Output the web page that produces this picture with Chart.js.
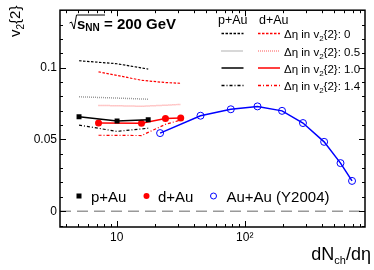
<!DOCTYPE html>
<html>
<head>
<meta charset="utf-8">
<script src="https://cdn.jsdelivr.net/npm/chart.js@4.4.1/dist/chart.umd.min.js"></script>
<style>
  html, body { margin: 0; padding: 0; background: #fff; }
  canvas { display: block; }
</style>
</head>
<body>
<canvas id="v2Chart" width="374" height="270"></canvas>
<script>
// values
const pAuX = [5.07, 10.05, 17.6];
const pAuV2 = [0.0658, 0.0628, 0.0637];
const pAuDeta0 = [0.1048, 0.1027, 0.0990];
const pAuDeta05 = [0.0797, 0.0788, 0.0780];
const pAuDeta14 = [0.0600, 0.0556, 0.0578];

const dAuX = [7.2, 15.6, 24.0, 31.6];
const dAuV2 = [0.0615, 0.0612, 0.0646, 0.0650];
const dAuDeta0 = [0.0971, 0.0912, 0.0896, 0.0891];
const dAuDeta05 = [0.0737, 0.0731, 0.0738, 0.0744];
const dAuDeta14 = [0.0529, 0.0527, 0.0605, 0.0635];

const auAuX = [21.8, 45.1, 77.8, 125.7, 195.6, 285, 417, 560, 689];
const auAuV2 = [0.0544, 0.0665, 0.0710, 0.0730, 0.0699, 0.0614, 0.0483, 0.0335, 0.0211];

const zeroX = [3.6, 870];
const zeroY = [0, 0];

const yLabels = { "0": "0", "0.05": "0.05", "0.1": "0.1" };
const xLabels = { "10": "10", "100": "10\u00b2" };

const FONT = '"Liberation Sans", Arial, Helvetica, sans-serif';

function pts(xs, ys) {
  return xs.map((x, i) => ({ x: x, y: ys[i] }));
}

function band(label, xs, ys, color, dash, width) {
  return {
    label: label,
    data: pts(xs, ys),
    borderColor: color,
    borderWidth: width || 1.5,
    borderDash: dash,
    pointRadius: 0,
    fill: false,
    tension: 0
  };
}

const DASH0 = [2.5, 1.5];
const DOT05 = [1, 1];
const DASHDOT14 = [3, 2, 1, 2];

// text with a lowered small part, e.g. v_2
function richText(ctx, x, y, parts) {
  let cx = x;
  parts.forEach(p => {
    ctx.font = p.font;
    ctx.fillText(p.t, cx, y + (p.dy || 0));
    cx += ctx.measureText(p.t).width;
  });
  return cx;
}
function richWidth(ctx, parts) {
  let w = 0;
  parts.forEach(p => { ctx.font = p.font; w += ctx.measureText(p.t).width; });
  return w;
}

const framePlugin = {
  id: "frame",
  afterDraw(chart) {
    const ctx = chart.ctx;
    const a = chart.chartArea;
    const xs = chart.scales.x, ys = chart.scales.y;
    ctx.save();
    ctx.strokeStyle = "#000";
    ctx.lineWidth = 1;
    ctx.setLineDash([]);
    // y ticks, both sides
    for (let i = -1; i <= 14; i++) {
      const py = Math.round(ys.getPixelForValue(i / 100)) + 0.5;
      const len = i % 5 === 0 ? 6 : 3;
      ctx.beginPath();
      ctx.moveTo(a.left, py); ctx.lineTo(a.left + len, py);
      ctx.moveTo(a.right, py); ctx.lineTo(a.right - len, py);
      ctx.stroke();
    }
    // x ticks, both sides
    [1, 10, 100].forEach(dec => {
      for (let m = 1; m <= 9; m++) {
        const v = m * dec;
        if (v < xs.min || v > xs.max) continue;
        const px = Math.round(xs.getPixelForValue(v)) + 0.5;
        const len = m === 1 ? 6 : 3;
        ctx.beginPath();
        ctx.moveTo(px, a.bottom); ctx.lineTo(px, a.bottom - len);
        ctx.moveTo(px, a.top); ctx.lineTo(px, a.top + len);
        ctx.stroke();
      }
    });
    // frame
    ctx.lineWidth = 1.5;
    ctx.strokeRect(a.left, a.top, a.right - a.left, a.bottom - a.top);

    ctx.fillStyle = "#000";
    ctx.textBaseline = "alphabetic";
    ctx.textAlign = "left";

    // y title v_2{2}
    ctx.save();
    ctx.translate(20, 37);
    ctx.rotate(-Math.PI / 2);
    richText(ctx, 0, 0, [
      { t: "v", font: "15px " + FONT },
      { t: "2", font: "10px " + FONT, dy: 4 },
      { t: "{2}", font: "15px " + FONT }
    ]);
    ctx.restore();

    // x title dN_ch/deta
    const xt = [
      { t: "dN", font: "18px " + FONT },
      { t: "ch", font: "11px " + FONT, dy: 4 },
      { t: "/d\u03b7", font: "18px " + FONT }
    ];
    richText(ctx, 371 - richWidth(ctx, xt), 260, xt);

    // sqrt(s_NN) = 200 GeV
    ctx.lineWidth = 1;
    ctx.beginPath();
    ctx.moveTo(69.5, 23); ctx.lineTo(71.5, 22); ctx.lineTo(74, 29);
    ctx.lineTo(76.5, 15); ctx.lineTo(105, 15);
    ctx.stroke();
    richText(ctx, 77, 28.5, [
      { t: "s", font: "bold 15px " + FONT },
      { t: "NN", font: "bold 10px " + FONT, dy: 2 },
      { t: " = 200 GeV", font: "bold 15px " + FONT }
    ]);

    // top-right legend
    ctx.font = "12.5px " + FONT;
    ctx.fillText("p+Au", 218, 23.5);
    ctx.fillText("d+Au", 259, 23.5);
    const rows = [
      { y: 33.5, val: "0", b: { c: "#000", d: DASH0, w: 1.3 }, r: { c: "#ff0000", d: DASH0, w: 1.3 } },
      { y: 51, val: "0.5", b: { c: "#999", d: DOT05, w: 1.5 }, r: { c: "#ff9090", d: DOT05, w: 1.5 } },
      { y: 68, val: "1.0", b: { c: "#000", d: [], w: 1.5 }, r: { c: "#ff0000", d: [], w: 1.5 } },
      { y: 85.5, val: "1.4", b: { c: "#000", d: DASHDOT14, w: 1.3 }, r: { c: "#ff0000", d: DASHDOT14, w: 1.3 } }
    ];
    rows.forEach(row => {
      [[row.b, 221.5, 243.5], [row.r, 258, 280]].forEach(([s, x0, x1]) => {
        ctx.strokeStyle = s.c;
        ctx.lineWidth = s.w;
        ctx.setLineDash(s.d);
        ctx.beginPath();
        ctx.moveTo(x0, row.y); ctx.lineTo(x1, row.y);
        ctx.stroke();
      });
      ctx.setLineDash([]);
      richText(ctx, 284, row.y + 4.5, [
        { t: "\u0394\u03b7 in v", font: "11.5px " + FONT },
        { t: "2", font: "8px " + FONT, dy: 3 },
        { t: "{2}: " + row.val, font: "11.5px " + FONT }
      ]);
    });

    // bottom legend
    const ly = 196;
    ctx.fillStyle = "#000";
    ctx.fillRect(76.5, ly - 2.5, 5, 5);
    ctx.fillStyle = "#ff0000";
    ctx.beginPath(); ctx.arc(146.5, ly, 3, 0, Math.PI * 2); ctx.fill();
    ctx.strokeStyle = "#0000ff";
    ctx.lineWidth = 1;
    ctx.beginPath(); ctx.arc(213.5, ly, 3, 0, Math.PI * 2); ctx.stroke();
    ctx.fillStyle = "#000";
    ctx.font = "15px " + FONT;
    ctx.fillText("p+Au", 91, ly + 5.5);
    ctx.fillText("d+Au", 158, ly + 5.5);
    ctx.fillText("Au+Au (Y2004)", 226.5, ly + 5.5);
    ctx.restore();
  }
};

const ctx = document.getElementById("v2Chart").getContext("2d");
new Chart(ctx, {
  type: "line",
  data: {
    datasets: [
      {
        label: "Au+Au (Y2004)",
        data: pts(auAuX, auAuV2),
        borderColor: "#0000ff",
        borderWidth: 1.5,
        pointStyle: "circle",
        pointRadius: 3.5,
        pointBorderWidth: 1,
        pointBorderColor: "#0000ff",
        pointBackgroundColor: "rgba(0,0,0,0)",
        fill: false
      },
      {
        label: "p+Au",
        data: pts(pAuX, pAuV2),
        borderColor: "#000",
        borderWidth: 1.5,
        pointStyle: "rect",
        pointRadius: 3.5,
        pointBorderWidth: 0,
        pointBackgroundColor: "#000",
        fill: false
      },
      {
        label: "d+Au",
        data: pts(dAuX, dAuV2),
        borderColor: "#ff0000",
        borderWidth: 1.5,
        pointStyle: "circle",
        pointRadius: 3.5,
        pointBorderWidth: 0,
        pointBackgroundColor: "#ff0000",
        fill: false
      },
      band("p+Au deta 0", pAuX, pAuDeta0, "#000", DASH0, 1.2),
      band("d+Au deta 0", dAuX, dAuDeta0, "#ff0000", DASH0, 1.2),
      band("p+Au deta 0.5", pAuX, pAuDeta05, "#999", DOT05, 1.5),
      band("d+Au deta 0.5", dAuX, dAuDeta05, "#ff9090", DOT05, 1.5),
      band("p+Au deta 1.4", pAuX, pAuDeta14, "#000", DASHDOT14, 1.2),
      band("d+Au deta 1.4", dAuX, dAuDeta14, "#ff0000", DASHDOT14, 1.2),
      band("zero", zeroX, zeroY, "#999", [11, 6], 1.5)
    ]
  },
  options: {
    responsive: false,
    animation: false,
    layout: { padding: { left: 0, top: 5, right: 9, bottom: 0 } },
    plugins: {
      legend: { display: false },
      tooltip: { enabled: false }
    },
    scales: {
      x: {
        type: "logarithmic",
        min: 3.6,
        max: 870,
        grid: { display: false, drawTicks: false },
        border: { display: false },
        afterFit: s => { s.height = 43; },
        ticks: {
          autoSkip: false,
          maxRotation: 0,
          padding: 3,
          color: "#000",
          font: { family: FONT, size: 12 },
          callback: v => xLabels[String(v)] || ""
        }
      },
      y: {
        type: "linear",
        min: -0.011,
        max: 0.14,
        grid: { display: false, drawTicks: false },
        border: { display: false },
        afterFit: s => { s.width = 60; },
        ticks: {
          stepSize: 0.01,
          autoSkip: false,
          padding: 3,
          color: "#000",
          font: { family: FONT, size: 12 },
          callback: v => yLabels[String(Math.round(v * 100) / 100)] || ""
        }
      }
    }
  },
  plugins: [framePlugin]
});
</script>
</body>
</html>
